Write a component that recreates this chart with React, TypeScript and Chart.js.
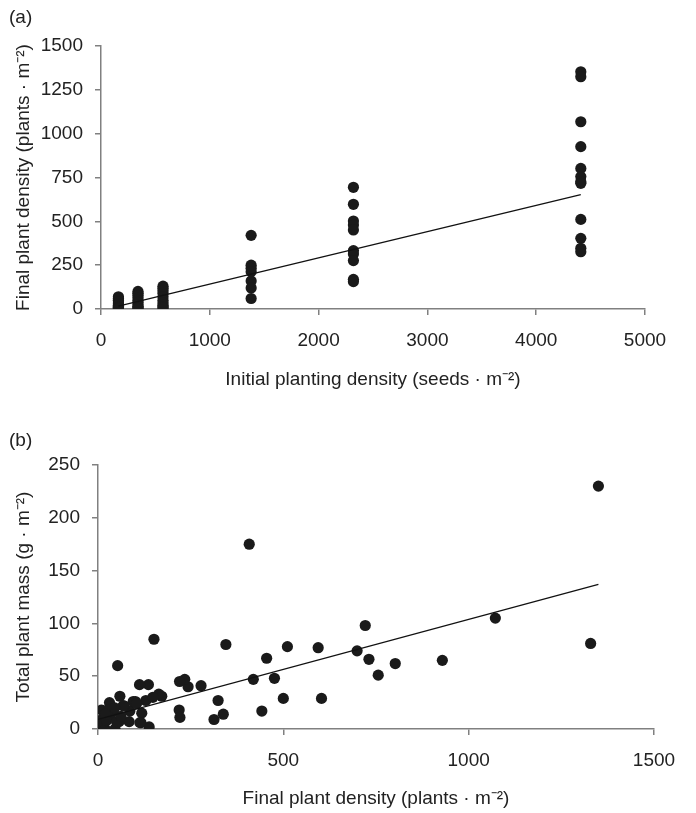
import React, { useEffect, useRef } from "react";
import { Chart, registerables } from "chart.js";
Chart.register(...registerables);

const FONT = "'Liberation Sans', Arial, Helvetica, sans-serif";
const TEXT = "#222222";
const AXIS = "#808080";
const DOT = "#1a1a1a";
const FS = 19;

// ---- Panel (a): initial planting density vs final plant density ----
const plantingLevels = [160, 340, 570, 1380, 2320, 4410];
const final160 = [70, 60, 50, 40, 30, 22, 15, 10, 5, 2];
const final340 = [100, 90, 78, 65, 50, 38, 25, 15, 8, 3];
const final570 = [130, 118, 105, 90, 70, 50, 35, 22, 12, 5];
const final1380 = [420, 250, 232, 213, 160, 120, 60];
const final2320 = [694, 597, 502, 479, 451, 333, 314, 276, 169, 156];
const final4410 = [1353, 1325, 1068, 926, 802, 755, 726, 717, 511, 403, 346, 327];
const fitAX = [160, 4410];
const fitAY = [16, 652];
const ticksA_X = [0, 1000, 2000, 3000, 4000, 5000];
const ticksA_Y = [0, 250, 500, 750, 1000, 1250, 1500];

// ---- Panel (b): final plant density vs total plant mass ----
const densityB = [1350, 1329, 1072, 929, 802, 756, 731, 721, 699, 603, 594, 511, 455, 408, 419, 476, 500, 442, 345, 324, 338, 313, 278, 243, 234, 220, 219, 221, 172, 164, 151, 136, 112, 129, 101, 118, 116, 138, 86, 84, 70, 59, 57, 53, 41, 31, 32, 10, 10, 0, 19, 46, 5, 23, 50, 95, 104, 68, 62, 28, 45, 113, 20, 148];
const massB = [230, 81, 105, 65, 62, 51, 66, 98, 74, 29, 77, 78, 67, 175, 47, 48, 29, 17, 80, 27, 14, 9, 41, 40, 47, 45, 18, 11, 31, 33, 85, 42, 42, 27, 26, 15, 6, 2, 17, 7, 22, 31, 7, 60, 17, 25, 13, 18, 8, 0, 0, 0, 8, 8, 7, 26, 24, 22, 12, 18, 20, 6, 14, 30];
const fitBX = [0, 1350];
const fitBY = [9, 137];
const ticksB_X = [0, 500, 1000, 1500];
const ticksB_Y = [0, 50, 100, 150, 200, 250];

const finalByLevel = [final160, final340, final570, final1380, final2320, final4410];

function axisCommon(min: number, max: number, step: number, title: string, titlePad: any, fit: (s: any) => void) {
  return {
    type: "linear" as const,
    min,
    max,
    afterFit: fit,
    ticks: {
      stepSize: step,
      color: TEXT,
      font: { family: FONT, size: FS },
    },
    grid: { drawOnChartArea: false, drawTicks: true, tickLength: 6, color: AXIS, lineWidth: 1.5 },
    border: { color: AXIS, width: 1.5 },
    title: { display: true, text: title, color: TEXT, font: { family: FONT, size: FS }, padding: titlePad },
  };
}

function ScatterPanel(props: { height: number; build: () => any }) {
  const ref = useRef<HTMLCanvasElement>(null);
  useEffect(() => {
    if (!ref.current) return;
    const chart = new Chart(ref.current, props.build());
    return () => chart.destroy();
  }, []);
  return <canvas ref={ref} width={696} height={props.height} style={{ display: "block", width: 696, height: props.height }} />;
}

function buildA() {
  const pts: { x: number; y: number }[] = [];
  plantingLevels.forEach((lv, i) => finalByLevel[i].forEach((v) => pts.push({ x: lv, y: v })));
  const fit = fitAX.map((x, i) => ({ x, y: fitAY[i] }));
  const x = axisCommon(0, 5000, 1000, "Initial planting density (seeds · m⁻²)", { top: 0, bottom: 9 }, (s: any) => { s.height = 91; });
  const y = axisCommon(0, 1500, 250, "Final plant density (plants · m⁻²)", { top: 12, bottom: 0 }, (s: any) => { s.width = 101; });
  (x.ticks as any).padding = 14;
  (y.ticks as any).padding = 12;
  (x.ticks as any).callback = (v: number) => (ticksA_X.includes(v) ? String(v) : "");
  (y.ticks as any).callback = (v: number) => (ticksA_Y.includes(v) ? String(v) : "");
  return {
    type: "scatter",
    data: {
      datasets: [
        { data: fit, showLine: true, borderColor: "#111", borderWidth: 1.3, pointRadius: 0, order: 0 },
        { data: pts, backgroundColor: DOT, borderColor: DOT, pointRadius: 5.6, pointBorderWidth: 0, order: 1 },
      ],
    },
    options: {
      animation: false,
      responsive: false,
      devicePixelRatio: 1,
      layout: { padding: { left: 0, right: 51, top: 46, bottom: 0 } },
      plugins: { legend: { display: false }, tooltip: { enabled: false } },
      scales: { x, y },
    },
  };
}

function buildB() {
  const pts = densityB.map((x, i) => ({ x, y: massB[i] }));
  const fit = fitBX.map((x, i) => ({ x, y: fitBY[i] }));
  const x = axisCommon(0, 1500, 500, "Final plant density (plants · m⁻²)", { top: 0, bottom: 3 }, (s: any) => { s.height = 84; });
  const y = axisCommon(0, 250, 50, "Total plant mass (g · m⁻²)", { top: 12, bottom: 0 }, (s: any) => { s.width = 98; });
  (x.ticks as any).padding = 14;
  (y.ticks as any).padding = 12;
  (x.ticks as any).callback = (v: number) => (ticksB_X.includes(v) ? String(v) : "");
  (y.ticks as any).callback = (v: number) => (ticksB_Y.includes(v) ? String(v) : "");
  return {
    type: "scatter",
    data: {
      datasets: [
        { data: fit, showLine: true, borderColor: "#111", borderWidth: 1.3, pointRadius: 0, order: 0 },
        { data: pts, backgroundColor: DOT, borderColor: DOT, pointRadius: 5.6, pointBorderWidth: 0, order: 1 },
      ],
    },
    options: {
      animation: false,
      responsive: false,
      devicePixelRatio: 1,
      layout: { padding: { left: 0, right: 42, top: 65, bottom: 0 } },
      plugins: { legend: { display: false }, tooltip: { enabled: false } },
      scales: { x, y },
    },
  };
}

export default function App() {
  const label: React.CSSProperties = { position: "absolute", left: 9, fontFamily: FONT, fontSize: 19, color: TEXT, lineHeight: "22px" };
  return (
    <div style={{ position: "absolute", left: 0, top: 0, width: 696, height: 813, background: "#fff" }}>
      <div style={{ position: "absolute", left: 0, top: 0 }}>
        <ScatterPanel height={400} build={buildA} />
      </div>
      <div style={{ position: "absolute", left: 0, top: 400 }}>
        <ScatterPanel height={413} build={buildB} />
      </div>
      <div style={{ ...label, top: 6 }}>(a)</div>
      <div style={{ ...label, top: 429 }}>(b)</div>
    </div>
  );
}
